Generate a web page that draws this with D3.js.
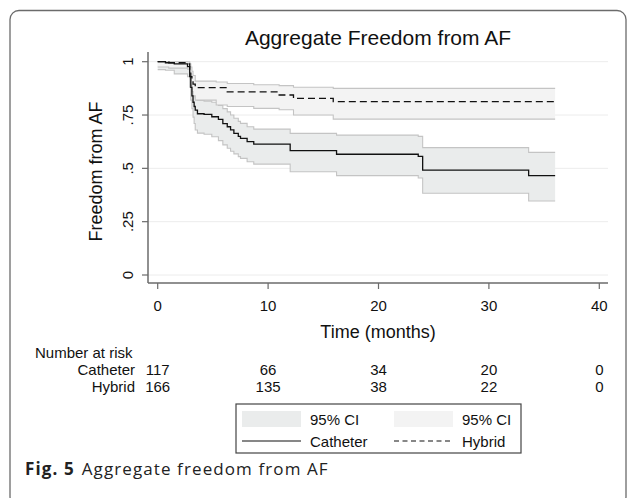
<!DOCTYPE html>
<html>
<head>
<meta charset="utf-8">
<script src="https://cdn.jsdelivr.net/npm/d3@7"></script>
<style>
  html, body { margin: 0; padding: 0; background: #fff; }
  svg { display: block; font-family: "Liberation Sans", Arial, sans-serif; }
</style>
</head>
<body>
<svg id="chart" width="630" height="498"></svg>
<script>
// Catheter arm: KM estimate with 95% CI (months)
const catTime = [0, 0.7, 1.5, 2.7, 2.9, 3.0, 3.1, 3.2, 3.3, 3.4, 3.6, 4.2, 4.9, 5.5, 5.9, 6.3, 6.6, 6.9, 7.3, 7.5, 8.1, 8.7, 12.0, 16.2, 23.6, 24.0, 33.6, 36.0];
const catSurv = [1.0, 0.995, 0.99, 0.977, 0.93, 0.88, 0.84, 0.81, 0.79, 0.773, 0.756, 0.753, 0.742, 0.73, 0.71, 0.695, 0.68, 0.664, 0.65, 0.641, 0.625, 0.614, 0.583, 0.566, 0.556, 0.492, 0.466, 0.466];
const catLow  = [0.963, 0.96, 0.943, 0.93, 0.88, 0.82, 0.78, 0.74, 0.71, 0.68, 0.665, 0.66, 0.648, 0.63, 0.61, 0.594, 0.58, 0.568, 0.555, 0.547, 0.531, 0.52, 0.484, 0.466, 0.455, 0.383, 0.347, 0.347];
const catHigh = [1.0, 1.0, 1.0, 0.995, 0.965, 0.93, 0.89, 0.86, 0.84, 0.83, 0.82, 0.815, 0.81, 0.795, 0.78, 0.765, 0.75, 0.735, 0.72, 0.711, 0.695, 0.684, 0.664, 0.656, 0.65, 0.597, 0.575, 0.575];

// Hybrid arm
const hybTime = [0, 1.0, 2.7, 2.9, 3.0, 3.1, 3.2, 3.4, 5.3, 6.3, 8.7, 11.0, 12.3, 15.9, 36.0];
const hybSurv = [1.0, 0.995, 0.99, 0.96, 0.93, 0.91, 0.895, 0.878, 0.878, 0.859, 0.859, 0.844, 0.828, 0.813, 0.813];
const hybLow  = [0.975, 0.97, 0.965, 0.92, 0.89, 0.86, 0.84, 0.82, 0.797, 0.79, 0.781, 0.775, 0.75, 0.731, 0.731];
const hybHigh = [1.0, 1.0, 1.0, 0.99, 0.975, 0.955, 0.935, 0.909, 0.905, 0.898, 0.892, 0.888, 0.88, 0.875, 0.875];

const xTicks = [0, 10, 20, 30, 40];
const yTicks = [0, 0.25, 0.5, 0.75, 1];
const yTickLabels = ["0", ".25", ".5", ".75", "1"];
const riskGroups = ["Catheter", "Hybrid"];
const catRisk = [117, 66, 34, 20, 0];
const hybRisk = [166, 135, 38, 22, 0];

const svg = d3.select("#chart");

// outer figure frame
svg.append("rect")
  .attr("x", 10).attr("y", 10.5)
  .attr("width", 616).attr("height", 495)
  .attr("rx", 9)
  .attr("fill", "none")
  .attr("stroke", "#6b6b6b")
  .attr("stroke-width", 1.3);

const plot = { left: 148, right: 608, top: 52, bottom: 283 };
const x = d3.scaleLinear().domain([0, 40]).range([157.7, 599.3]);
const y = d3.scaleLinear().domain([0, 1]).range([275, 61.7]);

// gridlines
svg.selectAll(".grid")
  .data(yTicks)
  .join("line")
  .attr("x1", plot.left).attr("x2", plot.right)
  .attr("y1", d => y(d)).attr("y2", d => y(d))
  .attr("stroke", "#ececec")
  .attr("stroke-width", 1);

const toRows = (t, s, lo, hi) => t.map((d, i) => ({ t: d, s: s[i], lo: lo[i], hi: hi[i] }));
const catData = toRows(catTime, catSurv, catLow, catHigh);
const hybData = toRows(hybTime, hybSurv, hybLow, hybHigh);

const area = d3.area()
  .x(d => x(d.t)).y0(d => y(d.lo)).y1(d => y(d.hi))
  .curve(d3.curveStepAfter);
const lineOf = key => d3.line().x(d => x(d.t)).y(d => y(d[key])).curve(d3.curveStepAfter);

function drawCI(data, fill) {
  svg.append("path").datum(data).attr("d", area).attr("fill", fill);
  ["lo", "hi"].forEach(k => {
    svg.append("path").datum(data).attr("d", lineOf(k))
      .attr("fill", "none").attr("stroke", "#c4c4c4").attr("stroke-width", 1.1);
  });
}
drawCI(catData, "#eaecec");
drawCI(hybData, "#f3f3f3");

svg.append("path").datum(catData).attr("d", lineOf("s"))
  .attr("fill", "none").attr("stroke", "#111").attr("stroke-width", 1.3);
svg.append("path").datum(hybData).attr("d", lineOf("s"))
  .attr("fill", "none").attr("stroke", "#111").attr("stroke-width", 1.3)
  .attr("stroke-dasharray", "7,4");

// axes
const axisColor = "#6b6b6b";
svg.append("line")
  .attr("x1", plot.left).attr("x2", plot.left)
  .attr("y1", plot.top).attr("y2", plot.bottom)
  .attr("stroke", axisColor).attr("stroke-width", 1.5);
svg.append("line")
  .attr("x1", plot.left).attr("x2", plot.right)
  .attr("y1", plot.bottom).attr("y2", plot.bottom)
  .attr("stroke", axisColor).attr("stroke-width", 1.5);

svg.selectAll(".ytick")
  .data(yTicks)
  .join("line")
  .attr("x1", plot.left - 6).attr("x2", plot.left)
  .attr("y1", d => y(d)).attr("y2", d => y(d))
  .attr("stroke", axisColor).attr("stroke-width", 1.2);

svg.selectAll(".ylab")
  .data(yTicks)
  .join("text")
  .attr("transform", d => `translate(133,${y(d)}) rotate(-90)`)
  .attr("text-anchor", "middle")
  .attr("font-size", 15)
  .attr("fill", "#111")
  .text((d, i) => yTickLabels[i]);

svg.selectAll(".xtick")
  .data(xTicks)
  .join("line")
  .attr("x1", d => x(d)).attr("x2", d => x(d))
  .attr("y1", plot.bottom).attr("y2", plot.bottom + 6)
  .attr("stroke", axisColor).attr("stroke-width", 1.2);

svg.selectAll(".xlab")
  .data(xTicks)
  .join("text")
  .attr("x", d => x(d)).attr("y", 311)
  .attr("text-anchor", "middle")
  .attr("font-size", 15)
  .attr("fill", "#111")
  .text(d => d);

// titles
svg.append("text")
  .attr("x", (plot.left + plot.right) / 2).attr("y", 45)
  .attr("text-anchor", "middle").attr("font-size", 21).attr("fill", "#111")
  .text("Aggregate Freedom from AF");

svg.append("text")
  .attr("transform", `translate(102,${(plot.top + plot.bottom) / 2 + 4}) rotate(-90)`)
  .attr("text-anchor", "middle").attr("font-size", 18).attr("fill", "#111")
  .text("Freedom from AF");

svg.append("text")
  .attr("x", (plot.left + plot.right) / 2).attr("y", 338)
  .attr("text-anchor", "middle").attr("font-size", 18).attr("fill", "#111")
  .text("Time (months)");

// number at risk table
svg.append("text")
  .attr("x", 35).attr("y", 357.5)
  .attr("font-size", 15).attr("fill", "#111")
  .text("Number at risk");

[catRisk, hybRisk].forEach((vals, r) => {
  const ty = 374.5 + r * 17;
  svg.append("text")
    .attr("x", 135).attr("y", ty)
    .attr("text-anchor", "end").attr("font-size", 15).attr("fill", "#111")
    .text(riskGroups[r]);
  svg.selectAll(".risk" + r)
    .data(vals)
    .join("text")
    .attr("x", (d, i) => x(xTicks[i])).attr("y", ty)
    .attr("text-anchor", "middle").attr("font-size", 15).attr("fill", "#111")
    .text(d => d);
});

// legend
const lg = svg.append("g").attr("transform", "translate(236,404)");
lg.append("rect")
  .attr("width", 285).attr("height", 49)
  .attr("fill", "#fff").attr("stroke", "#444").attr("stroke-width", 1.2);
const legendItems = [
  { col: 0, row: 0, type: "ci", fill: "#eaecec", label: "95% CI" },
  { col: 1, row: 0, type: "ci", fill: "#f3f3f3", label: "95% CI" },
  { col: 0, row: 1, type: "line", dash: null, label: "Catheter" },
  { col: 1, row: 1, type: "line", dash: "5,3.5", label: "Hybrid" }
];
legendItems.forEach(it => {
  const gx = 6 + it.col * 152, gy = 7 + it.row * 22;
  if (it.type === "ci") {
    lg.append("rect").attr("x", gx).attr("y", gy).attr("width", 59).attr("height", 16).attr("fill", it.fill);
  } else {
    lg.append("line").attr("x1", gx).attr("x2", gx + 59).attr("y1", gy + 8).attr("y2", gy + 8)
      .attr("stroke", "#111").attr("stroke-width", 1.2)
      .attr("stroke-dasharray", it.dash);
  }
  lg.append("text").attr("x", gx + 68).attr("y", gy + 13.5)
    .attr("font-size", 15).attr("fill", "#111").text(it.label);
});

// caption
const cap = svg.append("text").attr("x", 25).attr("y", 475)
  .attr("font-family", "'Open Sans', 'Noto Sans', sans-serif").attr("font-size", 17)
  .attr("letter-spacing", 1.1).attr("fill", "#222");
cap.append("tspan").attr("font-weight", "bold").text("Fig. 5");
cap.append("tspan").attr("dx", 7).text("Aggregate freedom from AF");
</script>
</body>
</html>
